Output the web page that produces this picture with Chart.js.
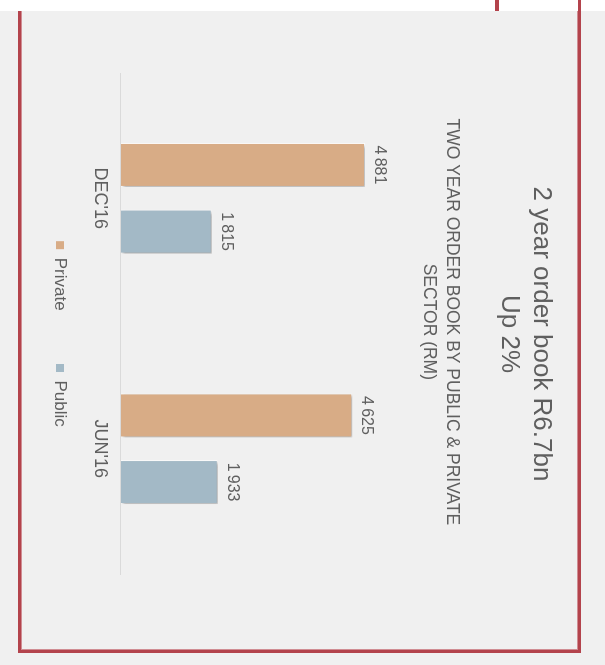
<!DOCTYPE html>
<html>
<head>
<meta charset="utf-8">
<script src="https://cdn.jsdelivr.net/npm/chart.js@4"></script>
<style>
  html, body { margin: 0; padding: 0; background: #ffffff; }
  body { width: 605px; height: 665px; position: relative; overflow: hidden; }
  #bg { position: absolute; left: 0; top: 11px; width: 605px; height: 654px; background: #f0f0f0; }
  #frame { position: absolute; left: 18px; top: 11px; width: 563px; height: 642px; box-sizing: border-box;
           border-left: 3px solid #b3434c; border-right: 3px solid #b3434c; border-bottom: 3px solid #b3434c;
           box-shadow: inset 1px 0 0 #d08d93, inset -1px 0 0 #d08d93, inset 0 -1px 0 #d08d93; }
  #rline { position: absolute; left: 578px; top: 0; width: 3px; height: 11px; background: #b3434c; }
  #stub { position: absolute; left: 495px; top: 0; width: 4px; height: 11px; background: #b3434c; }
  #rot { position: absolute; left: 0; top: 0; width: 665px; height: 605px;
         transform-origin: 0 0; transform: translate(605px, 0) rotate(90deg); }
</style>
</head>
<body>
<div id="bg"></div>
<div id="frame"></div>
<div id="rline"></div>
<div id="stub"></div>
<div id="rot"><canvas id="c" width="665" height="605"></canvas></div>
<script>
const categories = ["DEC'16", "JUN'16"];
const seriesNames = ["Private", "Public"];
const privateValues = [4881, 4625];
const publicValues = [1815, 1933];
const titleLines = ["2 year order book R6.7bn", "Up 2%"];
const subtitleLines = ["TWO YEAR ORDER BOOK BY PUBLIC & PRIVATE", "SECTOR (RM)"];
const valueMax = 6000;

const FONT = '"Liberation Sans", Arial, sans-serif';
const TEXT = '#5f5f5f';

function fmt(v) {
  return String(v).replace(/\B(?=(\d{3})+(?!\d))/g, '\u2009');
}

const barShadow = {
  id: 'barShadow',
  beforeDatasetsDraw(chart) {
    const ctx = chart.ctx;
    ctx.save();
    ctx.shadowColor = 'rgba(0,0,0,0.32)';
    ctx.shadowBlur = 3;
    ctx.shadowOffsetX = 2;
    ctx.shadowOffsetY = -2;
  },
  afterDatasetsDraw(chart) {
    chart.ctx.restore();
  }
};

const valueLabels = {
  id: 'valueLabels',
  afterDatasetsDraw(chart) {
    const ctx = chart.ctx;
    ctx.save();
    ctx.font = '16px ' + FONT;
    ctx.fillStyle = TEXT;
    ctx.textAlign = 'center';
    ctx.textBaseline = 'alphabetic';
    chart.data.datasets.forEach((ds, i) => {
      chart.getDatasetMeta(i).data.forEach((bar, j) => {
        ctx.fillText(fmt(ds.data[j]), bar.x, bar.y - 10);
      });
    });
    ctx.restore();
  }
};

new Chart(document.getElementById('c'), {
  type: 'bar',
  data: {
    labels: categories,
    datasets: [
      { label: seriesNames[0], data: privateValues, backgroundColor: '#d8ac86',
        borderColor: 'rgba(255,255,255,0.85)', borderWidth: 1,
        categoryPercentage: 0.532, barPercentage: 0.66 },
      { label: seriesNames[1], data: publicValues, backgroundColor: '#a3b9c6',
        borderColor: 'rgba(255,255,255,0.85)', borderWidth: 1,
        categoryPercentage: 0.532, barPercentage: 0.66 }
    ]
  },
  options: {
    responsive: false,
    animation: false,
    devicePixelRatio: 1,
    layout: { padding: { left: 73, right: 70, top: 0, bottom: 41.5 } },
    plugins: {
      title: {
        display: true,
        text: titleLines,
        color: TEXT,
        font: { family: FONT, size: 26, weight: 'normal', lineHeight: 1.23 },
        padding: { top: 48, bottom: 0 }
      },
      subtitle: {
        display: true,
        text: subtitleLines.map(s => s + '\u00a0\u00a0\u00a0\u00a0\u00a0'),
        color: TEXT,
        font: { family: FONT, size: 17.5, weight: 'normal', lineHeight: 1.314 },
        padding: { top: 30, bottom: -4 }
      },
      legend: {
        display: true,
        position: 'bottom',
        labels: {
          color: TEXT,
          font: { family: FONT, size: 17 },
          boxWidth: 8,
          boxHeight: 8,
          padding: 10.9,
          generateLabels(chart) {
            const items = Chart.defaults.plugins.legend.labels.generateLabels(chart);
            items.forEach((it, i) => {
              it.lineWidth = 0;
              if (i < items.length - 1) it.text = it.text + '\u00a0'.repeat(9);
            });
            return items;
          }
        }
      },
      tooltip: { enabled: false }
    },
    scales: {
      x: {
        position: 'bottom',
        grid: { display: false, drawTicks: false },
        border: { display: true, color: '#dadada', width: 1 },
        ticks: { color: TEXT, font: { family: FONT, size: 18 }, padding: 10 }
      },
      y: {
        position: 'right',
        min: 0,
        max: valueMax,
        grid: { display: false },
        border: { display: false },
        ticks: { display: false },
        afterFit(s) { s.width = 21; }
      }
    }
  },
  plugins: [barShadow, valueLabels]
});
</script>
</body>
</html>
